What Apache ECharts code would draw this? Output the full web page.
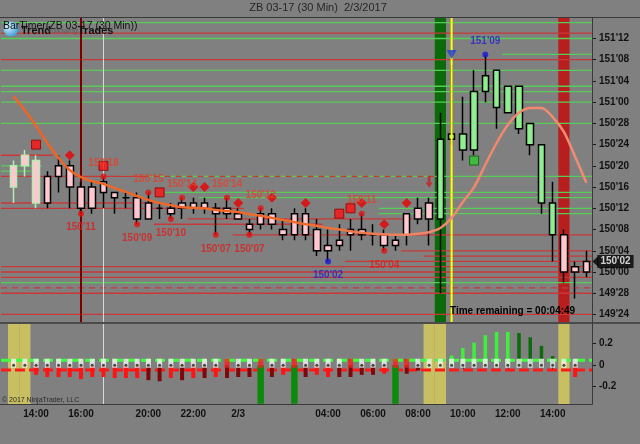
<!DOCTYPE html>
<html>
<head>
<meta charset="utf-8">
<title>ZB 03-17 (30 Min) 2/3/2017</title>
<script src="https://cdn.jsdelivr.net/npm/echarts@6/dist/echarts.min.js"></script>
<style>
html,body{margin:0;padding:0;background:#808080;}
#chart{width:640px;height:444px;}
</style>
</head>
<body>
<div id="chart"></div>
<script>
// ---------------- DATA ----------------
// 30-minute bars
const times = ['2/2 13:00','2/2 13:30','2/2 14:00','2/2 14:30','2/2 15:00','2/2 15:30','2/2 16:00','2/2 17:30','2/2 18:00','2/2 18:30','2/2 19:00','2/2 19:30','2/2 20:00','2/2 20:30','2/2 21:00','2/2 21:30','2/2 22:00','2/2 22:30','2/2 23:00','2/2 23:30','2/3 00:00','2/3 00:30','2/3 01:00','2/3 01:30','2/3 02:00','2/3 02:30','2/3 03:00','2/3 03:30','2/3 04:00','2/3 04:30','2/3 05:00','2/3 05:30','2/3 06:00','2/3 06:30','2/3 07:00','2/3 07:30','2/3 08:00','2/3 08:30','2/3 09:00','2/3 09:30','2/3 10:00','2/3 10:30','2/3 11:00','2/3 11:30','2/3 12:00','2/3 12:30','2/3 13:00','2/3 13:30','2/3 14:00','2/3 14:30','2/3 15:00','2/3 15:30'];
const xLabels = {2:'14:00',6:'16:00',12:'20:00',16:'22:00',20:'2/3',28:'04:00',32:'06:00',36:'08:00',40:'10:00',44:'12:00',48:'14:00'};
const xTickIdx = [2,6,12,16,20,24,28,32,36,40,44,48];

// prices in points'32nds
const open = ["150'20","150'22","150'21","150'18","150'20","150'20","150'16","150'16","150'17","150'15",
"150'14","150'14","150'13","150'12","150'12","150'13","150'13","150'13","150'12","150'12",
"150'11","150'09","150'11","150'11","150'08","150'11","150'11","150'08","150'05","150'06",
"150'08","150'08","150'07","150'07","150'06","150'11","150'12","150'13","150'10","150'25",
"150'23","150'23","151'02","150'31","150'30","150'27","150'24","150'13","150'07","150'07",
"150'01","150'00"];
const close = ["150'16","150'20","150'13","150'13","150'18","150'16","150'12","150'12","150'15","150'14",
"150'14","150'10","150'10","150'12","150'11","150'12","150'12","150'12","150'11","150'11",
"150'10","150'08","150'09","150'09","150'07","150'07","150'07","150'04","150'04","150'05",
"150'07","150'07","150'07","150'05","150'05","150'07","150'10","150'10","150'25","150'26",
"150'26","151'02","151'05","151'06","151'03","151'03","150'28","150'24","150'13","150'00",
"150'00","150'02"];
const high = ["150'21","150'23","150'22","150'19","150'22","150'21","150'17","150'17","150'18","150'15",
"150'15","150'15","150'15","150'13","150'13","150'14","150'14","150'14","150'13","150'14",
"150'12","150'10","150'12","150'12","150'10","150'12","150'12","150'10","150'08","150'09",
"150'10","150'11","150'09","150'08","150'07","150'11","150'14","150'14","150'30","151'07",
"151'01","151'06","151'09","151'06","151'03","151'03","150'28","150'24","150'17","150'08",
"150'02","150'04"];
const low = ["150'13","150'18","150'12","150'12","150'15","150'12","150'11","150'11","150'12","150'11",
"150'12","150'09","150'10","150'10","150'10","150'10","150'11","150'11","150'07","150'10",
"150'10","150'07","150'08","150'08","150'06","150'06","150'06","150'03","150'02","150'04",
"150'04","150'06","150'05","150'04","150'04","150'05","150'09","150'05","149'28","150'24",
"150'21","150'22","151'00","150'27","150'30","150'26","150'22","150'11","150'02","149'30",
"149'27","149'31"];
// bar paint state: q = early pink, p = pink, g = green
const barTrend = 'qqq' + 'p'.repeat(35) + 'g'.repeat(11) + 'ppp';

// moving average, in 32nds of a point
const maLine = [4833.1,4830.5,4827.5,4824.3,4821.5,4819.2,4817.9,4817.1,4816.6,4815.8,
4815.1,4814.3,4813.6,4813.0,4812.6,4812.2,4812.1,4812.0,4811.7,4811.5,
4811.3,4810.9,4810.6,4810.2,4809.8,4809.4,4809.0,4808.7,4808.3,4808.0,
4807.7,4807.4,4807.2,4807.1,4807.0,4807.0,4807.2,4807.5,4808.3,4810.2,
4813.2,4816.0,4820.2,4824.3,4827.7,4830.0,4830.9,4830.9,4829.2,4826.4,
4821.7,4816.8];

// signal markers
const diamondIdx = [5,16,17,20,23,26,31,33,35];
const diamondPx = ["150'22","150'16","150'16","150'13","150'14","150'13","150'13","150'09","150'13"];
const redSquareIdx = [2,8,13,29,30];
const redSquarePx = ["150'24","150'20","150'15","150'11","150'12"];
const greenSquareIdx = [41];
const greenSquarePx = ["150'21"];
const swingIdx = [6,8,11,12,14,15,18,19,21,22,28,31,33,42];
const swingPx = ["150'11","150'18","150'09","150'15","150'10","150'14","150'07","150'14","150'07","150'12","150'02","150'11","150'04","151'09"];
const swingSide = ['L','H','L','H','L','H','L','H','L','H','L','H','L','H'];
const swingBlue = [28,42];
const shortIdx = [39]; const shortPx = ["151'09"];
const arrowIdx = [37]; const arrowPx = ["150'17"];

// support / resistance levels [price, fromBar, toBar]  (-1 / 52 = edge)
const greenLevels = [["151'15",-1,52],["151'12",-1,52],["151'09",44,52],["151'06",-1,52],["151'03",-1,52],["151'02",-1,52],["151'00",-1,52],["150'28",-1,52],["150'20",-1,2],["150'19",-1,1],["150'18",10,52],["150'15",14,52],["150'14",17,52],["150'12",33,52],["150'11",33,52],["149'30",-1,52]];
const redLevels = [["151'13",-1,52],["151'08",-1,52],["150'22",-1,3],["150'18",-1,11],["150'13",-1,12],["150'12",-1,20],["150'10",16,35],["150'09",13,27],["150'07",20,52],["150'04",35,52],["150'03",37,52],["150'02",30,52],["150'01",-1,52],["150'00",-1,52],["149'31",-1,52],["149'28",-1,52],["149'24",-1,52]];
const redDashLevels = [["150'18",11,37],["149'29",-1,52]];

// vertical markers
const sessionLineIdx = [6];
const whiteLineIdx = [8];
const signalLineIdx = [39];
const greenBandIdx = [38];
const redBandIdx = [49];
const oliveBandIdx = [0,1,37,38,49];

// lower oscillator panel
const histRed = [null,null,-0.09,-0.11,-0.11,-0.11,-0.13,-0.11,-0.11,-0.12,
-0.12,-0.12,-0.14,-0.15,-0.12,-0.14,-0.12,-0.12,-0.11,-0.12,
-0.11,-0.11,null,-0.11,-0.09,null,-0.11,-0.09,-0.11,-0.11,
-0.11,-0.09,-0.09,-0.08,null,-0.08,-0.05,null,null,null,
null,null,null,null,null,null,null,null,null,null,
-0.11,null];
const histDarkIdx = [12,13,15,17,19,20,21,23,26,29,30,31,32,35,36];
const oscUpIdx = [39,40,41,42,43,44,45,46,47,48];
const oscUp = [0.09,0.16,0.21,0.28,0.31,0.31,0.30,0.26,0.18,0.085];
const oscFadeIdx = [45,46,47,48];
const downSpikeIdx = [22,25,34];
const downSpikeVal = [-0.36,-0.36,-0.36];
const redStateIdx = [19,22,25,30,34,35];
const stateCount = 51;
const oscLevels = [0.045,-0.045];

const priceTicks = ["149'24","149'28","150'00","150'04","150'08","150'12","150'16","150'20","150'24","150'28","151'00","151'04","151'08","151'12"];
const oscTicks = [-0.2,0,0.2];

// ---------------- HELPERS ----------------
const P = s => { const [a, b] = s.split("'"); return Number(a) * 32 + Number(b); };
const fmt = v => { const r = Math.round(v); return Math.floor(r / 32) + "'" + String(r % 32).padStart(2, '0'); };
const CAT = times.length;
const FONT = 'Liberation Sans';
const PANEL_LEFT = 1;

const chart = echarts.init(document.getElementById('chart'), null, {renderer: 'canvas'});

function bandRender(color) {
  return function (params, api) {
    const cs = params.coordSys;
    const x = api.coord([api.value(0), api.value(1)])[0];
    const w = api.size([1, 0])[0];
    return {type: 'rect', silent: true, shape: {x: x - w / 2, y: cs.y, width: w, height: cs.height}, style: {fill: color}};
  };
}
function vlineRender(color, width) {
  return function (params, api) {
    const cs = params.coordSys;
    const x = api.coord([api.value(0), api.value(1)])[0];
    return {type: 'line', silent: true, shape: {x1: x, y1: cs.y, x2: x, y2: cs.y + cs.height}, style: {stroke: color, lineWidth: width}};
  };
}
function levelRender(color, dash) {
  return function (params, api) {
    const cs = params.coordSys;
    const from = api.value(0), to = api.value(1), lv = api.value(2);
    const w = api.size([1, 0])[0];
    const y = api.coord([0, lv])[1];
    const x1 = from < 0 ? PANEL_LEFT : api.coord([from, lv])[0] - w / 2;
    const x2 = to >= CAT ? cs.x + cs.width : api.coord([to, lv])[0] + w / 2;
    return {type: 'line', silent: true, shape: {x1: x1, y1: y, x2: x2, y2: y}, style: {stroke: color, lineWidth: 1.3, lineDash: dash || null}};
  };
}
function histRender(width) {
  return function (params, api) {
    const cs = params.coordSys;
    const idx = api.value(0), v = api.value(1);
    const p0 = api.coord([idx, 0]), p1 = api.coord([idx, v]);
    const yTop = Math.max(Math.min(p0[1], p1[1]), cs.y);
    const yBot = Math.min(Math.max(p0[1], p1[1]), cs.y + cs.height);
    return {type: 'rect', silent: true, shape: {x: p0[0] - width / 2, y: yTop, width: width, height: yBot - yTop}, style: {fill: api.visual('color')}};
  };
}
function hRefRender(color) {
  return function (params, api) {
    const cs = params.coordSys;
    const y = api.coord([0, api.value(1)])[1];
    return {type: 'line', silent: true, shape: {x1: PANEL_LEFT, y1: y, x2: cs.x + cs.width, y2: y}, style: {stroke: color, lineWidth: 3, lineDash: [10, 4]}};
  };
}
const lv = arr => arr.map(([p, f, t]) => [f, t, P(p)]);

// ---------------- SERIES ----------------
const candleData = open.map((o, i) => {
  const t = barTrend[i];
  const fill = t === 'g' ? '#90ee90' : '#ffc8d0';
  const border = t === 'q' ? '#b4ecb4' : '#000000';
  return {value: [P(o), P(close[i]), P(low[i]), P(high[i])],
    itemStyle: {color: fill, color0: fill, borderColor: border, borderColor0: border}};
});

const swingData = swingIdx.map((idx, k) => {
  const blue = swingBlue.includes(idx);
  const hi = swingSide[k] === 'H';
  const dotColor = blue ? '#1a1ad8' : '#e41212';
  const txtColor = blue ? '#2323c8' : (hi ? '#e2402a' : '#dc1e1e');
  return {value: [idx, P(swingPx[k])], itemStyle: {color: dotColor},
    label: {show: true, position: hi ? 'top' : 'bottom', distance: hi ? 5 : 6, color: txtColor,
      formatter: () => swingPx[k], fontFamily: FONT, fontWeight: 'bold', fontSize: 10}};
});

const lastIdx = CAT - 1;
const lastPrice = P(close[lastIdx]);

const histData = [];
histRed.forEach((v, i) => { if (v !== null) histData.push({value: [i, v], itemStyle: {color: histDarkIdx.includes(i) ? '#7c0a0a' : '#ff1414'}}); });
const oscData = oscUpIdx.map((idx, k) => ({value: [idx, oscUp[k]], itemStyle: {color: oscFadeIdx.includes(idx) ? '#0d6a0d' : '#3cf03c'}}));
const spikeData = downSpikeIdx.map((idx, k) => ({value: [idx, downSpikeVal[k]], itemStyle: {color: '#0d8a0d'}}));
const stateData = [];
const stateDots = [];
for (let i = 0; i < stateCount; i++) {
  const red = redStateIdx.includes(i);
  stateData.push({value: [i, 0.018], itemStyle: {color: red ? '#ff1a1a' : '#f4f4f4'}});
  if (!red) stateDots.push([i, 0]);
}

const option = {
  animation: false,
  backgroundColor: '#808080',
  textStyle: {fontFamily: FONT},
  grid: [
    {left: 8, right: 48, top: 18, height: 304},
    {left: 8, right: 48, top: 324, height: 80}
  ],
  xAxis: [
    {gridIndex: 0, type: 'category', data: times, boundaryGap: true, show: false},
    {gridIndex: 1, type: 'category', data: times, boundaryGap: true,
      axisLine: {show: false},
      axisTick: {show: true, alignWithLabel: true, length: 4, interval: (i) => xTickIdx.includes(i), lineStyle: {color: '#1a1a1a'}},
      axisLabel: {interval: (i) => xLabels[i] !== undefined, formatter: (v, i) => xLabels[i] || '', color: '#111', fontWeight: 'bold', fontSize: 10, fontFamily: FONT, margin: 5}}
  ],
  yAxis: [
    {gridIndex: 0, type: 'value', position: 'right', min: 4790.58, max: 4847.86,
      splitLine: {show: false}, axisLine: {show: false},
      axisTick: {show: true, length: 4, lineStyle: {color: '#1a1a1a'}, customValues: priceTicks.map(P)},
      axisLabel: {customValues: priceTicks.map(P), formatter: v => fmt(v), color: '#111', fontWeight: 'bold', fontSize: 10, fontFamily: FONT, margin: 7}},
    {gridIndex: 1, type: 'value', position: 'right', min: -0.362, max: 0.384,
      splitLine: {show: false}, axisLine: {show: false},
      axisTick: {show: true, length: 4, lineStyle: {color: '#1a1a1a'}, customValues: oscTicks},
      axisLabel: {customValues: oscTicks, formatter: v => String(Math.round(v * 10) / 10), color: '#111', fontWeight: 'bold', fontSize: 10, fontFamily: FONT, margin: 7}}
  ],
  series: [
    // ---- main panel ----
    {type: 'custom', name: 'greenBand', xAxisIndex: 0, yAxisIndex: 0, z: 1, renderItem: bandRender('#0b6b0b'), encode: {x: 0, y: 1}, data: greenBandIdx.map(i => [i, 4800])},
    {type: 'custom', name: 'redBand', xAxisIndex: 0, yAxisIndex: 0, z: 1, renderItem: bandRender('#b81e1e'), encode: {x: 0, y: 1}, data: redBandIdx.map(i => [i, 4800])},
    {type: 'custom', name: 'greenLevels', xAxisIndex: 0, yAxisIndex: 0, z: 2, renderItem: levelRender('#58cc58'), encode: {x: [0, 1], y: 2}, data: lv(greenLevels)},
    {type: 'custom', name: 'redLevels', xAxisIndex: 0, yAxisIndex: 0, z: 2, renderItem: levelRender('#c83838'), encode: {x: [0, 1], y: 2}, data: lv(redLevels)},
    {type: 'custom', name: 'redDash', xAxisIndex: 0, yAxisIndex: 0, z: 2, renderItem: levelRender('#c83838', [6, 5]), encode: {x: [0, 1], y: 2}, data: lv(redDashLevels)},
    {type: 'custom', name: 'sessionLine', xAxisIndex: 0, yAxisIndex: 0, z: 2, renderItem: vlineRender('#7a0000', 2), encode: {x: 0, y: 1}, data: sessionLineIdx.map(i => [i, 4800])},
    {type: 'custom', name: 'whiteLine', xAxisIndex: 0, yAxisIndex: 0, z: 2, renderItem: vlineRender('#dcdcdc', 1), encode: {x: 0, y: 1}, data: whiteLineIdx.map(i => [i, 4800])},
    {type: 'custom', name: 'signalLine', xAxisIndex: 0, yAxisIndex: 0, z: 4, renderItem: vlineRender('#ffff00', 2), encode: {x: 0, y: 1}, data: signalLineIdx.map(i => [i, 4800])},
    {type: 'candlestick', name: 'ZB', xAxisIndex: 0, yAxisIndex: 0, z: 3, barWidth: 7, data: candleData,
      itemStyle: {borderWidth: 1.5}},
    {type: 'line', name: 'MA', xAxisIndex: 0, yAxisIndex: 0, z: 5, data: maLine, showSymbol: false, smooth: 0.3,
      lineStyle: {width: 2.5, color: new echarts.graphic.LinearGradient(0, 0, 1, 0, [
        {offset: 0, color: '#ee6424'}, {offset: 0.5, color: '#ee6a2c'}, {offset: 0.72, color: '#f0866a'}, {offset: 1, color: '#f08c70'}])}},
    {type: 'scatter', name: 'diamonds', xAxisIndex: 0, yAxisIndex: 0, z: 6, symbol: 'diamond', symbolSize: 10,
      itemStyle: {color: '#e80000'}, data: diamondIdx.map((i, k) => [i, P(diamondPx[k])])},
    {type: 'scatter', name: 'redSquares', xAxisIndex: 0, yAxisIndex: 0, z: 6, symbol: 'rect', symbolSize: 9,
      itemStyle: {color: '#ff1010', borderColor: '#8a0000', borderWidth: 1}, data: redSquareIdx.map((i, k) => [i, P(redSquarePx[k])])},
    {type: 'scatter', name: 'greenSquares', xAxisIndex: 0, yAxisIndex: 0, z: 6, symbol: 'rect', symbolSize: 9,
      itemStyle: {color: '#2ec82e', borderColor: '#0a5a0a', borderWidth: 1}, data: greenSquareIdx.map((i, k) => [i, P(greenSquarePx[k])])},
    {type: 'scatter', name: 'swings', xAxisIndex: 0, yAxisIndex: 0, z: 6, symbol: 'circle', symbolSize: 6, data: swingData},
    {type: 'scatter', name: 'short', xAxisIndex: 0, yAxisIndex: 0, z: 6, symbol: 'triangle', symbolRotate: 180, symbolSize: [10, 9],
      itemStyle: {color: '#1e3cd2'}, data: shortIdx.map((i, k) => [i, P(shortPx[k])])},
    {type: 'scatter', name: 'arrow', xAxisIndex: 0, yAxisIndex: 0, z: 6, symbol: 'path://M3,0 L7,0 L7,9 L10,9 L5,16 L0,9 L3,9 Z', symbolSize: [7, 12],
      itemStyle: {color: '#c82020'}, data: arrowIdx.map((i, k) => [i, P(arrowPx[k])])},
    {type: 'scatter', name: 'lastArrow', xAxisIndex: 0, yAxisIndex: 0, z: 7, clip: false, symbol: 'path://M0,5 L6,0 L6,10 Z', symbolSize: [6, 11], symbolOffset: [9, 0],
      itemStyle: {color: '#000'}, data: [[lastIdx, lastPrice]]},
    {type: 'scatter', name: 'lastPrice', xAxisIndex: 0, yAxisIndex: 0, z: 7, clip: false, symbol: 'circle', symbolSize: 1, itemStyle: {color: 'rgba(0,0,0,0)'},
      label: {show: true, position: 'right', distance: 10.5, formatter: () => fmt(lastPrice), color: '#fff', backgroundColor: '#000',
        fontWeight: 'bold', fontSize: 10, fontFamily: FONT, padding: [2, 3, 1, 3]},
      data: [[lastIdx, lastPrice]]},
    // ---- lower panel ----
    {type: 'custom', name: 'oliveBand', xAxisIndex: 1, yAxisIndex: 1, z: 1, renderItem: bandRender('#c7bf62'), encode: {x: 0, y: 1}, data: oliveBandIdx.map(i => [i, 0])},
    {type: 'custom', name: 'whiteLine2', xAxisIndex: 1, yAxisIndex: 1, z: 2, renderItem: vlineRender('#dcdcdc', 1), encode: {x: 0, y: 1}, data: whiteLineIdx.map(i => [i, 0])},
    {type: 'custom', name: 'oscRefUp', xAxisIndex: 1, yAxisIndex: 1, z: 2, renderItem: hRefRender('#3cff3c'), encode: {x: 0, y: 1}, data: [[0, oscLevels[0]]]},
    {type: 'custom', name: 'oscRefDn', xAxisIndex: 1, yAxisIndex: 1, z: 2, renderItem: hRefRender('#ff1a1a'), encode: {x: 0, y: 1}, data: [[0, oscLevels[1]]]},
    {type: 'custom', name: 'spikes', xAxisIndex: 1, yAxisIndex: 1, z: 3, renderItem: histRender(6.5), encode: {x: 0, y: 1}, data: spikeData},
    {type: 'custom', name: 'histRed', xAxisIndex: 1, yAxisIndex: 1, z: 3, renderItem: histRender(4), encode: {x: 0, y: 1}, data: histData},
    {type: 'custom', name: 'oscUp', xAxisIndex: 1, yAxisIndex: 1, z: 3, renderItem: histRender(3.5), encode: {x: 0, y: 1}, data: oscData},
    {type: 'scatter', name: 'state', xAxisIndex: 1, yAxisIndex: 1, z: 5, symbol: 'rect', symbolSize: [5, 9], data: stateData},
    {type: 'scatter', name: 'stateDot', xAxisIndex: 1, yAxisIndex: 1, z: 6, symbol: 'circle', symbolSize: 3, itemStyle: {color: '#222'}, data: stateDots}
  ],
  graphic: [
    {type: 'line', silent: true, z: 100, shape: {x1: 0, y1: 17.5, x2: 640, y2: 17.5}, style: {stroke: '#3a3a3a', lineWidth: 1}},
    {type: 'line', silent: true, z: 100, shape: {x1: 0, y1: 323, x2: 640, y2: 323}, style: {stroke: '#3a3a3a', lineWidth: 1.5}},
    {type: 'line', silent: true, z: 100, shape: {x1: 0, y1: 404.5, x2: 592.5, y2: 404.5}, style: {stroke: '#3a3a3a', lineWidth: 1}},
    {type: 'line', silent: true, z: 100, shape: {x1: 592.5, y1: 17, x2: 592.5, y2: 404.5}, style: {stroke: '#3a3a3a', lineWidth: 1}},
    {type: 'text', silent: true, z: 100, style: {text: 'ZB 03-17 (30 Min)  2/3/2017', x: 318, y: 8, textAlign: 'center', align: 'center', textVerticalAlign: 'middle', verticalAlign: 'middle', font: '11px "Liberation Sans"', fill: '#262626'}},
    {type: 'circle', silent: true, z: 100, shape: {cx: 11, cy: 29, r: 7.5}, style: {fill: new echarts.graphic.RadialGradient(0.35, 0.35, 0.7, [{offset: 0, color: '#d8f2ff'}, {offset: 1, color: '#3d9bd6'}])}},
    {type: 'text', silent: true, z: 100, style: {text: 'Trend', x: 21, y: 31, textVerticalAlign: 'middle', verticalAlign: 'middle', font: 'bold 11px "Liberation Sans"', fill: '#111'}},
    {type: 'text', silent: true, z: 100, style: {text: 'Following', x: 48, y: 31, textVerticalAlign: 'middle', verticalAlign: 'middle', font: 'italic 7px "Liberation Sans"', fill: '#5a5a5a'}},
    {type: 'text', silent: true, z: 100, style: {text: 'Trades', x: 78, y: 31, textVerticalAlign: 'middle', verticalAlign: 'middle', font: 'bold 11px "Liberation Sans"', fill: '#111'}},
    {type: 'text', silent: true, z: 101, style: {text: 'BarTimer(ZB 03-17 (30 Min))', x: 3, y: 26, textVerticalAlign: 'middle', verticalAlign: 'middle', font: '10.5px "Liberation Sans"', fill: '#111'}},
    {type: 'text', silent: true, z: 100, style: {text: 'Time remaining = 00:04:49', x: 450, y: 311, textVerticalAlign: 'middle', verticalAlign: 'middle', font: 'bold 10px "Liberation Sans"', fill: '#000'}},
    {type: 'text', silent: true, z: 100, style: {text: '\u00a9 2017 NinjaTrader, LLC', x: 2, y: 400, textVerticalAlign: 'middle', verticalAlign: 'middle', font: '7px "Liberation Sans"', fill: '#2a2a2a'}}
  ]
};
chart.setOption(option);
</script>
</body>
</html>
